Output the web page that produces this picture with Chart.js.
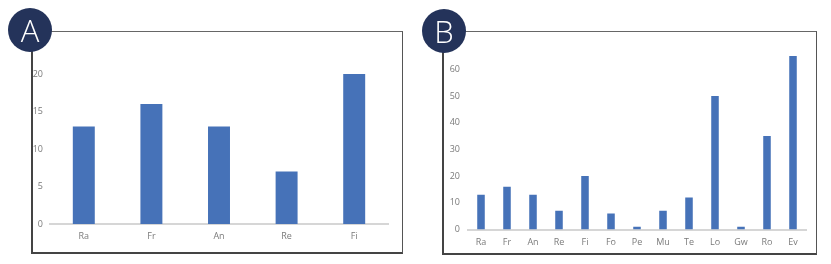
<!DOCTYPE html>
<html>
<head>
<meta charset="utf-8">
<script src="https://cdn.jsdelivr.net/npm/chart.js@4"></script>
<style>
  body { margin: 0; width: 831px; height: 264px; background: #fff; position: relative; overflow: hidden; font-family: "Open Sans", sans-serif; }
  .box { position: absolute; border-top: 1.5px solid #666; border-right: 1.5px solid #555; border-left: 2px solid #444; border-bottom: 2px solid #444; box-sizing: border-box; }
  .badge { position: absolute; width: 44px; height: 44px; border-radius: 50%; background: #24335a; color: #fff; font-size: 31px; font-weight: 300; line-height: 44px; text-align: center; z-index: 2; }
  canvas { position: absolute; top: 0; }
</style>
</head>
<body>
<div class="box" style="left:31px; top:31px; width:372px; height:223px;"></div>
<div class="box" style="left:442px; top:31px; width:375px; height:224px;"></div>
<div class="badge" style="left:8px; top:8px;">A</div>
<div class="badge" style="left:422px; top:9px;">B</div>
<div style="position:absolute;left:0;top:0;width:400px;height:264px;"><canvas id="chartA"></canvas></div>
<div style="position:absolute;left:410px;top:0;width:421px;height:264px;"><canvas id="chartB"></canvas></div>
<script>
const categoriesA = ['Ra', 'Fr', 'An', 'Re', 'Fi']
const valuesA = [13, 16, 13, 7, 20]

const categoriesB = ['Ra', 'Fr', 'An', 'Re', 'Fi', 'Fo', 'Pe', 'Mu', 'Te', 'Lo', 'Gw', 'Ro', 'Ev']
const valuesB = [13, 16, 13, 7, 20, 6, 1, 7, 12, 50, 1, 35, 65]

const barColor = '#4672b8'
const textColor = '#7a7a7a'

const makeChart = (id, labels, values, opts) => {
  return new Chart(document.getElementById(id), {
    type: 'bar',
    data: {
      labels: labels,
      datasets: [
        {
          data: values,
          backgroundColor: barColor,
          borderWidth: 0,
          categoryPercentage: 1,
          barPercentage: opts.barPct,
        },
      ],
    },
    options: {
      responsive: true,
      maintainAspectRatio: false,
      animation: false,
      layout: { padding: opts.padding },
      plugins: { legend: { display: false }, tooltip: { enabled: false } },
      scales: {
        x: {
          grid: { display: false, drawTicks: false },
          border: { display: true, color: '#d6d6d6', width: 2 },
          ticks: { color: textColor, font: { family: 'Open Sans', size: 9 }, padding: opts.xPad },
          afterFit(scale) {
            scale.height = opts.xHeight
          },
        },
        y: {
          min: 0,
          max: opts.max,
          grid: { display: false, drawTicks: false },
          border: { display: false },
          ticks: { stepSize: opts.step, color: textColor, font: { family: 'Open Sans', size: 9 }, padding: opts.yPad },
          afterBuildTicks(scale) {
            scale.ticks = scale.ticks.filter((t) => t.value % opts.step === 0)
          },
          afterFit(scale) {
            scale.width = 20
          },
        },
      },
    },
  })
}

makeChart('chartA', categoriesA, valuesA, {
  barPct: 0.325,
  padding: { left: 30, right: 12, top: 74, bottom: 0 },
  xHeight: 40,
  xPad: 7,
  yPad: 7,
  max: 20,
  step: 5,
})

makeChart('chartB', categoriesB, valuesB, {
  barPct: 0.29,
  padding: { left: 38, right: 25, top: 56, bottom: 0 },
  xHeight: 34.5,
  xPad: 8,
  yPad: 8,
  max: 65,
  step: 10,
})
</script>
</body>
</html>
